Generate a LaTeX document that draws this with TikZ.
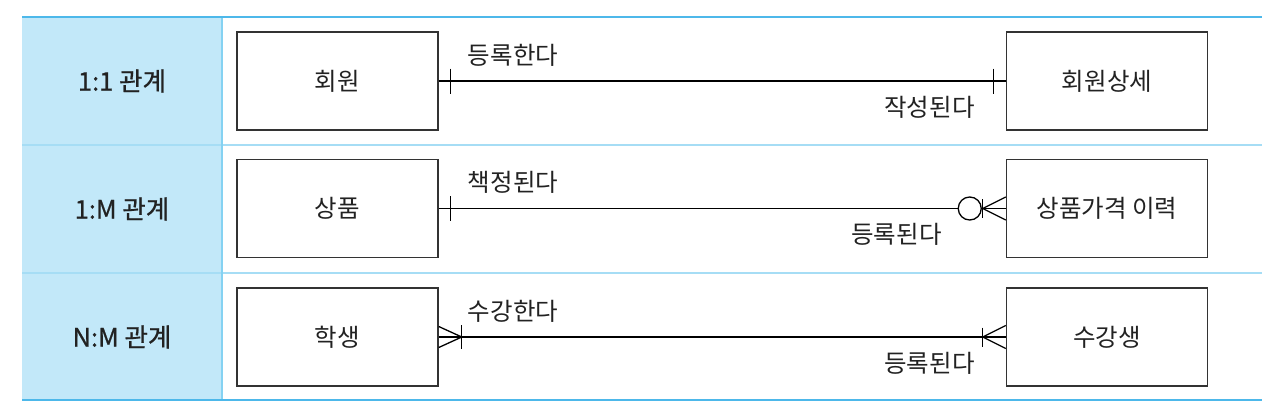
\documentclass[tikz,border=0pt]{standalone}
\usepackage{fontspec}
\setmainfont{Noto Sans CJK KR}
\newfontfamily\hdrfont[FakeBold=0.8]{Noto Sans CJK KR}
\usetikzlibrary{calc}
\definecolor{hdrfill}{HTML}{C2E8F9}
\definecolor{topblue}{HTML}{4DB8EA}
\definecolor{rowline}{HTML}{A6DDF5}
\definecolor{colline}{HTML}{85D2F2}
\definecolor{boxline}{HTML}{333333}
\definecolor{txt}{HTML}{222222}
\begin{document}
\begin{tikzpicture}[x=1pt,y=-1pt,
  entity/.style={draw=boxline, line width=1.5pt, minimum width=201pt, minimum height=98pt, inner sep=0pt, text=txt, font=\fontsize{24.5}{28}\selectfont},
  hdr/.style={text=txt, font=\hdrfont\fontsize{25.5}{28}\selectfont},
  rlabel/.style={text=txt, inner sep=0pt, font=\fontsize{24.5}{28}\selectfont},
  rel/.style={draw=black, line width=1.3pt},
  zerocirc/.style={draw=black, line width=1.3pt, circle, minimum size=23pt, inner sep=0pt},
  tableline/.style={line width=2pt}]
\useasboundingbox (0,0) rectangle (1286,418);
% table
\fill[hdrfill] (22,17) rectangle (222,400);
\draw[rowline, tableline] (22,145) -- (1262,145);
\draw[rowline, tableline] (22,273) -- (1262,273);
\draw[colline, line width=1.5pt] (222,17) -- (222,400);
\draw[topblue, tableline] (22,17) -- (1262,17);
\draw[topblue, tableline] (22,400) -- (1262,400);
% headers
\node[hdr] (h1) at (122,81) {1:1 관계};
\node[hdr] (h2) at (122,209) {1:M 관계};
\node[hdr] (h3) at (122,337) {N:M 관계};
% entities
\node[entity] (e1) at (337.5,81) {회원};
\node[entity] (f1) at (1107,81) {회원상세};
\node[entity] (e2) at (337.5,208.5) {상품};
\node[entity] (f2) at (1107,208.5) {상품가격 이력};
\node[entity] (e3) at (337.5,337) {학생};
\node[entity] (f3) at (1107,337) {수강생};
% row 1: one to one
\draw[rel] (e1.east) -- (f1.west);
\draw[rel] ($(e1.east)+(12,-12.5)$) -- ($(e1.east)+(12,12.5)$);
\draw[rel] ($(f1.west)+(-12,-12.5)$) -- ($(f1.west)+(-12,12.5)$);
\node[rlabel, anchor=west] (l1) at ($(e1.east)+(29,-26)$) {등록한다};
\node[rlabel, anchor=east] (r1) at ($(f1.west)+(-31,26)$) {작성된다};
% row 2: one to many
\node[zerocirc] (c2) at ($(f2.west)+(-36,0)$) {};
\draw[rel] (e2.east) -- (c2.west);
\draw[rel] (c2.east) -- (f2.west);
\draw[rel] ($(e2.east)+(12,-12.5)$) -- ($(e2.east)+(12,12.5)$);
\draw[rel] ($(f2.west)+(-23,-9.5)$) -- ($(f2.west)+(-23,9.5)$);
\draw[rel] ($(f2.west)+(0,-11.5)$) -- ($(f2.west)+(-23,0)$) -- ($(f2.west)+(0,11.5)$);
\node[rlabel, anchor=west] (l2) at ($(e2.east)+(29,-26)$) {책정된다};
\node[rlabel, anchor=east] (r2) at ($(f2.west)+(-64,26)$) {등록된다};
% row 3: many to many
\draw[rel] (e3.east) -- (f3.west);
\draw[rel] ($(e3.east)+(0,-10.5)$) -- ($(e3.east)+(23,0)$) -- ($(e3.east)+(0,10.5)$);
\draw[rel] ($(e3.east)+(23,-12)$) -- ($(e3.east)+(23,12)$);
\draw[rel] ($(f3.west)+(0,-11.5)$) -- ($(f3.west)+(-23,0)$) -- ($(f3.west)+(0,11.5)$);
\draw[rel] ($(f3.west)+(-23,-9.5)$) -- ($(f3.west)+(-23,9.5)$);
\node[rlabel, anchor=west] (l3) at ($(e3.east)+(29,-26)$) {수강한다};
\node[rlabel, anchor=east] (r3) at ($(f3.west)+(-31,26)$) {등록된다};
\end{tikzpicture}
\end{document}
